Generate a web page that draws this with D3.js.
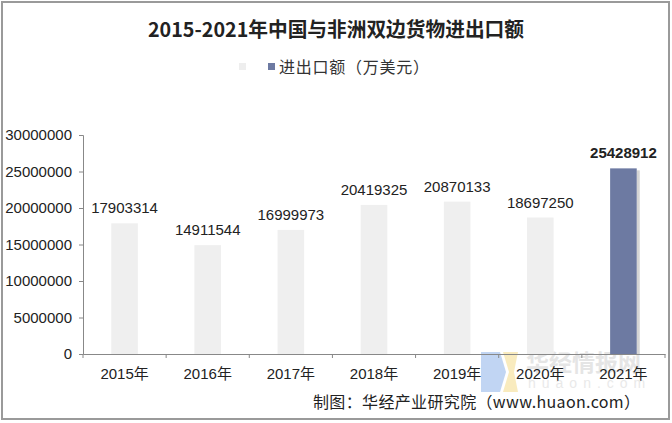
<!DOCTYPE html>
<html><head><meta charset="utf-8">
<script src="https://cdn.jsdelivr.net/npm/d3@7"></script>
<style>body{margin:0;background:#fff}svg{display:block}</style>
</head><body>
<svg id="c" width="672" height="423"></svg>
<script>
const categories = ["2015年","2016年","2017年","2018年","2019年","2020年","2021年"];
const values = [17903314,14911544,16999973,20419325,20870133,18697250,25428912];
const yTicks = [0,5000000,10000000,15000000,20000000,25000000,30000000];
const title = "2015-2021年中国与非洲双边货物进出口额";
const seriesName = "进出口额（万美元）";
const source = "制图：华经产业研究院（www.huaon.com）";

const svg = d3.select("#c");
const font = "Arial, 'Liberation Sans', 'Noto Sans CJK SC', sans-serif";
// border
svg.append("rect").attr("x",2).attr("y",2).attr("width",667).attr("height",417)
  .attr("fill","#fff").attr("stroke","#9a9a9a").attr("stroke-width",2);

const x = d3.scaleBand().domain(categories).range([83,665]).paddingInner(0.68).paddingOuter(0.34);
const y = d3.scaleLinear().domain([0,30000000]).range([354,135]);

// title
svg.append("text").attr("x",148).attr("y",37)
  .attr("font-family","'Noto Sans CJK SC', sans-serif").attr("font-weight","bold")
  .attr("font-size",20).attr("fill","#222").attr("textLength",376)
  .attr("lengthAdjust","spacingAndGlyphs").text(title);

// legend
svg.append("rect").attr("x",239).attr("y",63).attr("width",7).attr("height",7).attr("fill","#eeeeee");
svg.append("rect").attr("x",268).attr("y",63).attr("width",7).attr("height",7).attr("fill","#6d7aa2");
svg.append("text").attr("x",279).attr("y",73).attr("font-family","'Noto Sans CJK SC', sans-serif")
  .attr("font-size",16).attr("fill","#333").attr("textLength",150).text(seriesName);

// watermark
const wm = svg.append("g").attr("opacity",0.55);
wm.append("path").attr("d","M481,352 L500,352 L506,372 L500,392 L481,392 Z").attr("fill","#8fb4ea");
wm.append("path").attr("d","M503,352 L518,352 L514,372 L518,392 L503,392 L509,372 Z").attr("fill","#f5dc8a");
wm.append("text").attr("x",526).attr("y",371).attr("font-family","'Noto Sans CJK SC', sans-serif")
  .attr("font-size",23).attr("font-weight","bold").attr("fill","#d0d0d0").text("华经情报网");
wm.append("text").attr("x",528).attr("y",388).attr("font-family",font)
  .attr("font-size",14).attr("letter-spacing",6).attr("fill","#d8d8d8").text("huaon.com");

// y axis
const yAxis = svg.append("g").attr("transform","translate(83,0)")
  .call(d3.axisLeft(y).tickValues(yTicks).tickSize(4).tickPadding(7).tickFormat(d3.format("d")));
yAxis.select(".domain").attr("stroke","#888");
yAxis.selectAll(".tick line").attr("stroke","#888");
yAxis.selectAll("text").attr("font-family",font).attr("font-size",15).attr("fill","#222");

// bars
const n = categories.length;
svg.append("g").selectAll("rect.shadow").data(values).join("rect")
  .filter((d,i)=>i===n-1)
  .attr("x",(d,i)=>x(categories[n-1])+x.bandwidth()).attr("y",d=>y(d)+2)
  .attr("width",3).attr("height",d=>354-y(d)-2).attr("fill","#d4d4d4");
svg.append("g").selectAll("rect").data(values).join("rect")
  .attr("x",(d,i)=>x(categories[i])).attr("y",d=>y(d))
  .attr("width",x.bandwidth()).attr("height",d=>354-y(d))
  .attr("fill",(d,i)=>i===n-1?"#6d7aa2":"#efefef");

// x axis
const xAxis = svg.append("g").attr("transform","translate(0,354)")
  .call(d3.axisBottom(x).tickSize(0).tickPadding(14));
xAxis.select(".domain").attr("stroke","#888");
xAxis.selectAll("text").attr("font-family",font).attr("font-size",15).attr("fill","#222");
const step = x.step();
const bounds = d3.range(n+1).map(i=>83+i*step);
svg.append("g").selectAll("line").data(bounds).join("line")
  .attr("x1",d=>d).attr("x2",d=>d).attr("y1",354).attr("y2",358).attr("stroke","#888");

// labels
svg.append("g").selectAll("text").data(values).join("text")
  .attr("x",(d,i)=>x(categories[i])+x.bandwidth()/2).attr("y",d=>y(d)-10)
  .attr("text-anchor","middle").attr("font-family",font).attr("font-size",15)
  .attr("font-weight",(d,i)=>i===n-1?"bold":"normal").attr("fill","#222").text(d=>d);

// source
svg.append("text").attr("x",313).attr("y",408)
  .attr("font-family","'Noto Sans CJK SC', sans-serif").attr("font-size",16).attr("fill","#222")
  .attr("textLength",327).text(source);
</script>
</body></html>
